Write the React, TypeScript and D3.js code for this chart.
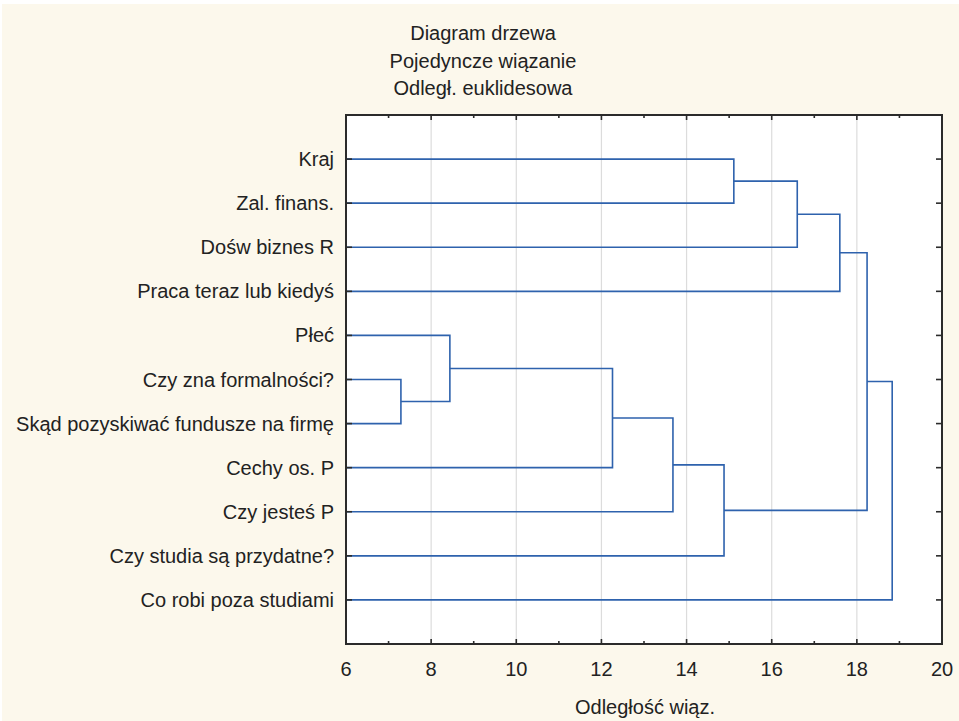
import { useEffect, useRef } from 'react'
import * as d3 from 'd3'

const titleLines = ['Diagram drzewa', 'Pojedyncze wiązanie', 'Odległ. euklidesowa']
const xAxisLabel = 'Odległość wiąz.'

// leaves in display order, top to bottom
const leaves = [
  'Kraj',
  'Zal. finans.',
  'Dośw biznes R',
  'Praca teraz lub kiedyś',
  'Płeć',
  'Czy zna formalności?',
  'Skąd pozyskiwać fundusze na firmę',
  'Cechy os. P',
  'Czy jesteś P',
  'Czy studia są przydatne?',
  'Co robi poza studiami',
]

// merges: [left node, right node, distance]; nodes < 11 are leaves, 11+ are earlier merges
const merges: [number, number, number][] = [
  [5, 6, 7.29],
  [4, 11, 8.44],
  [12, 7, 12.26],
  [13, 8, 13.68],
  [14, 9, 14.88],
  [0, 1, 15.11],
  [16, 2, 16.6],
  [17, 3, 17.6],
  [18, 15, 18.24],
  [19, 10, 18.83],
]

const xTicks = [6, 8, 10, 12, 14, 16, 18, 20]
const xMinorTicks = [7, 9, 11, 13, 15, 17, 19]

export default function App() {
  const ref = useRef<SVGSVGElement>(null)

  useEffect(() => {
    const svg = d3.select(ref.current)
    svg.selectAll('*').remove()

    const W = 959
    const H = 721
    const left = 346, right = 942, top = 115, bottom = 644
    const font = 'Liberation Sans, Arial, sans-serif'
    const fs = 20

    svg.append('rect').attr('x', 0).attr('y', 0).attr('width', W).attr('height', H).attr('fill', '#ffffff')
    svg.append('rect').attr('x', 2).attr('y', 4).attr('width', W - 2).attr('height', H - 4).attr('fill', '#fcf8ec')

    const x = d3.scaleLinear().domain([6, 20]).range([left, right])
    const y = d3.scaleLinear().domain([0, leaves.length + 1]).range([top, bottom])

    svg.append('rect')
      .attr('x', left).attr('y', top)
      .attr('width', right - left).attr('height', bottom - top)
      .attr('fill', '#ffffff')

    // grid
    svg.selectAll('.grid')
      .data(xTicks.slice(1, -1))
      .enter().append('line')
      .attr('x1', d => x(d)).attr('x2', d => x(d))
      .attr('y1', top).attr('y2', bottom)
      .attr('stroke', '#dcdcdc').attr('stroke-width', 1.2)

    // dendrogram
    const pos: { x: number, y: number }[] = leaves.map((_, i) => ({ x: 6, y: i + 1 }))
    const g = svg.append('g').attr('fill', 'none').attr('stroke', '#2e62ad').attr('stroke-width', 1.6)
    merges.forEach(([a, b, dist]) => {
      const pa = pos[a], pb = pos[b]
      g.append('path').attr('d',
        `M${x(pa.x)},${y(pa.y)}H${x(dist)}V${y(pb.y)}H${x(pb.x)}`)
      pos.push({ x: dist, y: (pa.y + pb.y) / 2 })
    })

    // frame
    svg.append('rect')
      .attr('x', left).attr('y', top)
      .attr('width', right - left).attr('height', bottom - top)
      .attr('fill', 'none').attr('stroke', '#2b2b2b').attr('stroke-width', 2)

    const ticks = svg.append('g').attr('stroke', '#2b2b2b').attr('stroke-width', 1.6)
    leaves.forEach((_, i) => {
      const yy = y(i + 1)
      ticks.append('line').attr('x1', left).attr('x2', left + 6).attr('y1', yy).attr('y2', yy)
      ticks.append('line').attr('x1', right - 6).attr('x2', right).attr('y1', yy).attr('y2', yy)
    })
    xTicks.forEach(v => {
      ticks.append('line').attr('x1', x(v)).attr('x2', x(v)).attr('y1', bottom).attr('y2', bottom - 5)
      ticks.append('line').attr('x1', x(v)).attr('x2', x(v)).attr('y1', top).attr('y2', top + 5)
    })
    xMinorTicks.forEach(v => {
      ticks.append('line').attr('x1', x(v)).attr('x2', x(v)).attr('y1', bottom).attr('y2', bottom - 3)
      ticks.append('line').attr('x1', x(v)).attr('x2', x(v)).attr('y1', top).attr('y2', top + 3)
    })

    // leaf labels
    svg.selectAll('.leaf')
      .data(leaves)
      .enter().append('text')
      .attr('x', left - 12)
      .attr('y', (_, i) => y(i + 1))
      .attr('dy', '0.35em')
      .attr('text-anchor', 'end')
      .attr('font-family', font).attr('font-size', fs).attr('fill', '#222')
      .text(d => d)

    // x tick labels
    svg.selectAll('.xt')
      .data(xTicks)
      .enter().append('text')
      .attr('x', d => x(d))
      .attr('y', 669)
      .attr('dy', '0.35em')
      .attr('text-anchor', 'middle')
      .attr('font-family', font).attr('font-size', fs).attr('fill', '#222')
      .text(d => d)

    svg.append('text')
      .attr('x', 645).attr('y', 707).attr('dy', '0.35em')
      .attr('text-anchor', 'middle')
      .attr('font-family', font).attr('font-size', fs).attr('fill', '#222')
      .text(xAxisLabel)

    titleLines.forEach((t, i) => {
      svg.append('text')
        .attr('x', 483).attr('y', 33 + i * 27.5).attr('dy', '0.35em')
        .attr('text-anchor', 'middle')
        .attr('font-family', font).attr('font-size', fs).attr('fill', '#222')
        .text(t)
    })
  }, [])

  return (
    <div>
      <style>{'body{margin:0}'}</style>
      <svg ref={ref} width={959} height={721} style={{ display: 'block' }} />
    </div>
  )
}
